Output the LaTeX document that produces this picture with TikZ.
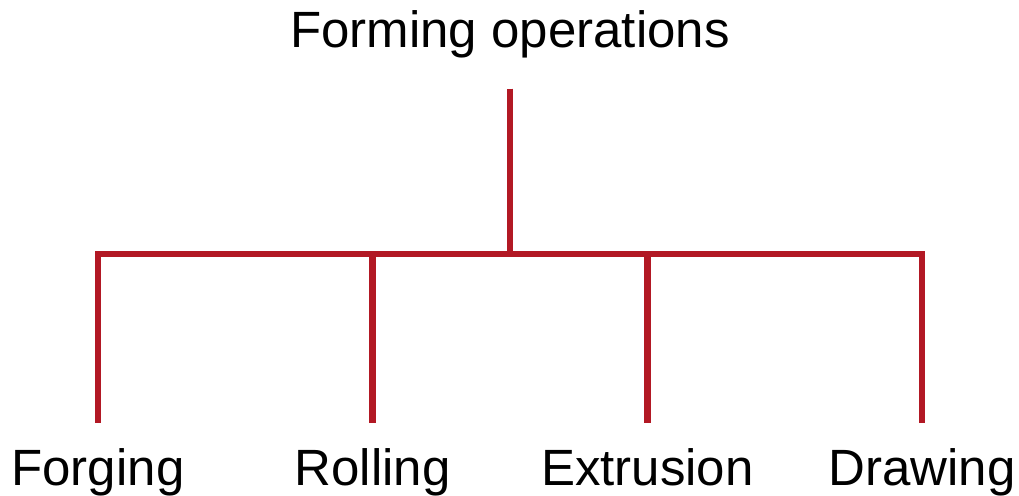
\documentclass[tikz,border=0pt]{standalone}
\usepackage{fontspec}
\setmainfont{Liberation Sans}
\usepackage{tikz}
\usepackage{tikz-qtree}
\definecolor{formred}{RGB}{178,24,36}
\tikzset{
    every tree node/.style={anchor=north, inner sep=0pt, text height=19pt, text depth=6pt,
        font=\fontsize{25.5}{30}\selectfont},
    leafnode/.style={minimum width=110pt},
    edge from parent/.style={draw=formred, line width=3.3pt,
        edge from parent path={([yshift=-14.5pt]\tikzparentnode.south)
            -- ([yshift=-97pt]\tikzparentnode.south)
            -| ([yshift=12pt]\tikzchildnode.north)}},
    level distance=219pt,
    sibling distance=27.35pt
}
\begin{document}
\begin{tikzpicture}
                    \Tree
                    [.\node (forming) {Forming operations};
                        \node[leafnode] (forging) {Forging};
                        \node[leafnode] (rolling) {Rolling};
                        \node[leafnode] (extrusion) {Extrusion};
                        \node[leafnode] (drawing) {Drawing};
                    ]
                    \pgfresetboundingbox
                    \path[use as bounding box] ([shift={(-255pt,4.5pt)}]forming.north)
                        rectangle ([shift={(254.5pt,-243.5pt)}]forming.north);
                \end{tikzpicture}
\end{document}
